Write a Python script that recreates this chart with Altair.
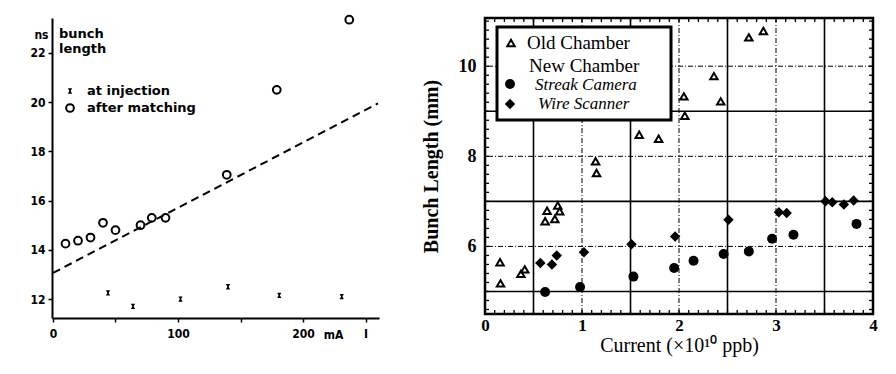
import altair as alt
import pandas as pd

# ---------------- left panel: bunch length (ns) vs current (mA) ----------------
inj_current = [44, 64, 102, 140, 181, 231]
inj_length = [12.25, 11.7, 12.0, 12.5, 12.15, 12.1]

match_current = [10, 20, 30, 40, 50, 70, 79, 90, 139, 179, 237]
match_length = [14.25, 14.37, 14.5, 15.1, 14.8, 15.0, 15.3, 15.3, 17.05, 20.5, 23.35]

fit_current = [0, 260]
fit_length = [13.06, 19.95]

left_ticks_y = [12, 14, 16, 18, 20, 22]
left_ticks_x = [0, 50, 100, 150, 200, 250]

# ---------------- right panel: bunch length (mm) vs current (1e10 ppb) ----------------
old_current = [0.155, 0.16, 0.37, 0.41, 0.62, 0.64, 0.72, 0.75, 0.77, 1.14, 1.15,
               1.59, 1.79, 2.05, 2.06, 2.36, 2.43, 2.72, 2.87]
old_length = [5.65, 5.18, 5.39, 5.49, 6.56, 6.79, 6.61, 6.91, 6.78, 7.89, 7.63,
              8.48, 8.39, 9.33, 8.90, 9.78, 9.22, 10.64, 10.78]

streak_current = [0.62, 0.98, 1.53, 1.95, 2.15, 2.46, 2.72, 2.96, 3.18, 3.83]
streak_length = [4.99, 5.10, 5.33, 5.52, 5.68, 5.83, 5.89, 6.17, 6.26, 6.50]

wire_current = [0.57, 0.69, 0.74, 1.02, 1.51, 1.96, 2.51, 3.03, 3.11, 3.51, 3.58, 3.70, 3.80]
wire_length = [5.63, 5.60, 5.80, 5.87, 6.05, 6.22, 6.59, 6.76, 6.74, 7.00, 6.98, 6.93, 7.02]

grid_solid_x = [0.5, 1.5, 2.5, 3.5]
grid_solid_y = [5, 7, 9]
grid_dash_x = [1, 2, 3]
grid_dash_y = [6, 8, 10]
minor_x = [round(i * 0.1, 2) for i in range(1, 40)]
minor_y = [round(4.6 + i * 0.2, 2) for i in range(0, 33)]

SANS_NARROW = "DejaVu Sans Condensed, DejaVu Sans"
SANS = "DejaVu Sans"
SERIF = "Liberation Serif"
CROSS = "M-0.8,-1L0.8,-1L0.25,0L0.8,1L-0.8,1L-0.25,0Z"

LW, LH = 327, 300
RW, RH = 388, 296

xL = alt.Scale(domain=[-0.8, 260.8], nice=False, zero=False)
yL = alt.Scale(domain=[11.23, 23.42], nice=False, zero=False)
xR = alt.Scale(domain=[0, 4], nice=False, zero=False)
yR = alt.Scale(domain=[4.5, 11.07], nice=False, zero=False)


def one_row():
    return alt.Data(values=[{"k": 0}])


def label(text, x, y, **kw):
    return alt.Chart(one_row()).mark_text(text=text, **kw).encode(
        x=alt.value(x), y=alt.value(y)
    )


def symbol(x, y, **kw):
    return alt.Chart(one_row()).mark_point(**kw).encode(x=alt.value(x), y=alt.value(y))


# ----- left panel layers -----
inj_df = pd.DataFrame({"I": inj_current, "L": inj_length})
match_df = pd.DataFrame({"I": match_current, "L": match_length})
fit_df = pd.DataFrame({"I": fit_current, "L": fit_length})

x_left_axis = alt.Axis(
    values=left_ticks_x, grid=False, domainColor="black", domainWidth=2,
    tickColor="black", tickSize=4, tickWidth=1.5,
    labelExpr="datum.value == 0 ? '0' : datum.value == 100 ? '100' : datum.value == 200 ? '200' : datum.value == 250 ? 'I' : ''",
    labelFont=SANS_NARROW, labelFontWeight="bold", labelFontSize=12, labelColor="black",
    labelPadding=6, labelFlush=False,
    title="mA", titleFont=SANS_NARROW, titleFontWeight="bold", titleFontSize=12,
    titleX=281, titleY=16, titleAlign="center", titleBaseline="middle", titleColor="black",
)
y_left_axis = alt.Axis(
    values=left_ticks_y, grid=False, domainColor="black", domainWidth=2,
    tickColor="black", tickSize=4, tickWidth=1.5,
    labelFont=SANS_NARROW, labelFontWeight="bold", labelFontSize=12, labelColor="black",
    labelPadding=3,
    title="ns", titleFont=SANS_NARROW, titleFontWeight="bold", titleFontSize=12, titleAngle=0,
    titleX=-4, titleY=16, titleAlign="right", titleBaseline="middle", titleColor="black",
)

fit_line = alt.Chart(fit_df).mark_line(
    color="black", strokeWidth=2, strokeDash=[8, 5], clip=False
).encode(
    x=alt.X("I:Q", scale=xL, axis=x_left_axis),
    y=alt.Y("L:Q", scale=yL, axis=y_left_axis),
)
match_pts = alt.Chart(match_df).mark_point(
    shape="circle", filled=False, color="black", strokeWidth=2, size=60, opacity=1
).encode(x=alt.X("I:Q", scale=xL), y=alt.Y("L:Q", scale=yL))
inj_pts = alt.Chart(inj_df).mark_point(
    shape=CROSS, filled=True, color="black", size=28, opacity=1
).encode(x=alt.X("I:Q", scale=xL), y=alt.Y("L:Q", scale=yL))

left_text_style = dict(font=SANS, fontWeight="bold", fontSize=13, color="black",
                       align="left", baseline="middle")
left = alt.layer(
    fit_line,
    match_pts,
    inj_pts,
    label("bunch", 7, 16, **left_text_style),
    label("length", 7, 31, **left_text_style),
    symbol(18, 73, shape=CROSS, filled=True, color="black", size=28, opacity=1),
    symbol(18, 90, shape="circle", filled=False, color="black", strokeWidth=2, size=60, opacity=1),
    label("at injection", 35, 73, **left_text_style),
    label("after matching", 35, 90, **left_text_style),
).properties(width=LW, height=LH, view=alt.ViewBackground(strokeOpacity=0))

# ----- right panel layers -----
old_df = pd.DataFrame({"I": old_current, "L": old_length})
streak_df = pd.DataFrame({"I": streak_current, "L": streak_length})
wire_df = pd.DataFrame({"I": wire_current, "L": wire_length})

x_right_axis = alt.Axis(
    values=[0, 1, 2, 3, 4], format="d", grid=False, ticks=False, domain=False,
    labelFont=SERIF, labelFontWeight="bold", labelFontSize=17, labelColor="black",
    labelPadding=3, labelFlush=False,
    title="Current (×10¹⁰ ppb)", titleFont=SERIF, titleFontWeight="normal",
    titleFontSize=20, titleColor="black", titlePadding=2,
)
y_right_axis = alt.Axis(
    values=[6, 8, 10], format="d", grid=False, ticks=False, domain=False,
    labelFont=SERIF, labelFontWeight="bold", labelFontSize=18, labelColor="black",
    labelPadding=9,
    title="Bunch Length (mm)", titleFont=SERIF, titleFontWeight="bold",
    titleFontSize=20, titleColor="black", titlePadding=17,
)

gx_solid = alt.Chart(pd.DataFrame({"v": grid_solid_x})).mark_rule(
    color="black", strokeWidth=1.6
).encode(x=alt.X("v:Q", scale=xR, axis=x_right_axis))
gy_solid = alt.Chart(pd.DataFrame({"v": grid_solid_y})).mark_rule(
    color="black", strokeWidth=1.6
).encode(y=alt.Y("v:Q", scale=yR, axis=y_right_axis))
gx_dash = alt.Chart(pd.DataFrame({"v": grid_dash_x})).mark_rule(
    color="black", strokeWidth=1, strokeDash=[5, 2, 1, 2]
).encode(x=alt.X("v:Q", scale=xR))
gy_dash = alt.Chart(pd.DataFrame({"v": grid_dash_y})).mark_rule(
    color="black", strokeWidth=1, strokeDash=[5, 2, 1, 2]
).encode(y=alt.Y("v:Q", scale=yR))

mx = pd.DataFrame({"v": minor_x})
my = pd.DataFrame({"v": minor_y})
tick_style = dict(color="black", strokeWidth=1.3)
minor_bottom = alt.Chart(mx).mark_rule(**tick_style).encode(
    x=alt.X("v:Q", scale=xR), y=alt.value(RH), y2=alt.value(RH - 4))
minor_top = alt.Chart(mx).mark_rule(**tick_style).encode(
    x=alt.X("v:Q", scale=xR), y=alt.value(0), y2=alt.value(4))
minor_left = alt.Chart(my).mark_rule(**tick_style).encode(
    y=alt.Y("v:Q", scale=yR), x=alt.value(0), x2=alt.value(4))
minor_right = alt.Chart(my).mark_rule(**tick_style).encode(
    y=alt.Y("v:Q", scale=yR), x=alt.value(RW), x2=alt.value(RW - 4))

old_pts = alt.Chart(old_df).mark_point(
    shape="triangle-up", filled=False, color="black", strokeWidth=2, size=55, opacity=1
).encode(x=alt.X("I:Q", scale=xR), y=alt.Y("L:Q", scale=yR))
streak_pts = alt.Chart(streak_df).mark_point(
    shape="circle", filled=True, color="black", size=100, opacity=1
).encode(x=alt.X("I:Q", scale=xR), y=alt.Y("L:Q", scale=yR))
wire_pts = alt.Chart(wire_df).mark_point(
    shape="diamond", filled=True, color="black", size=110, opacity=1
).encode(x=alt.X("I:Q", scale=xR), y=alt.Y("L:Q", scale=yR))

legend_box = alt.Chart(one_row()).mark_rect(
    fill="white", stroke="black", strokeWidth=3
).encode(x=alt.value(12), x2=alt.value(186), y=alt.value(9), y2=alt.value(102))

serif_style = dict(font=SERIF, fontSize=19, color="black", align="left", baseline="middle")
italic_style = dict(font=SERIF, fontSize=17, fontStyle="italic", color="black",
                    align="left", baseline="middle")

right = alt.layer(
    gx_solid, gy_solid, gx_dash, gy_dash,
    minor_bottom, minor_top, minor_left, minor_right,
    old_pts, streak_pts, wire_pts,
    legend_box,
    symbol(26, 25, shape="triangle-up", filled=False, color="black", strokeWidth=2, size=55, opacity=1),
    symbol(25, 66, shape="circle", filled=True, color="black", size=100, opacity=1),
    symbol(25, 86, shape="diamond", filled=True, color="black", size=110, opacity=1),
    label("Old Chamber", 42, 25, **serif_style),
    label("New Chamber", 44, 48, **serif_style),
    label("Streak Camera", 50, 67, **italic_style),
    label("Wire Scanner", 53, 86, **italic_style),
).properties(width=RW, height=RH,
             view=alt.ViewBackground(stroke="black", strokeWidth=2.5, fill="white"))

chart = alt.hconcat(left, right, spacing=106, bounds="flush").properties(
    padding={"left": 29, "top": 11, "right": 5, "bottom": 5},
    background="white",
)

chart.save("out.html", embed_options={"renderer": "svg", "actions": False})
